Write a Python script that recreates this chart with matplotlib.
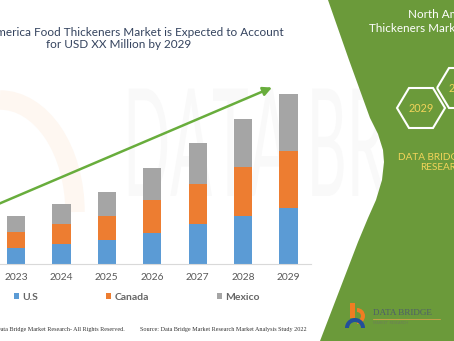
import matplotlib.pyplot as plt
import numpy as np
from matplotlib.patches import Polygon, Rectangle, Wedge, Arc, PathPatch
from matplotlib.textpath import TextPath
from matplotlib.font_manager import FontProperties
from matplotlib.transforms import Affine2D

plt.rcParams['font.family'] = ['Lato', 'DejaVu Sans']

# market size by country (USD Million, stacked)
years = ['2023', '2024', '2025', '2026', '2027', '2028', '2029']
us = [16, 20, 24, 31.5, 40, 48.5, 56.5]
canada = [16, 20, 24.5, 33, 40.5, 48.5, 56.5]
mexico = [16.5, 20, 23.5, 31.5, 40.5, 48, 57]
countries = ['U.S', 'Canada', 'Mexico']
colors = ['#5b9bd5', '#ed7d31', '#a5a5a5']

fig = plt.figure(figsize=(4.54, 3.41), dpi=100)

# background layer in pixel units
bg = fig.add_axes([0, 0, 1, 1], zorder=0)
bg.set_xlim(0, 454)
bg.set_ylim(341, 0)
bg.axis('off')

# faded logo watermark
bg.add_patch(Arc((0, 212), 150, 224, theta1=270, theta2=360,
                 color='#fef7f1', lw=14))
fp = FontProperties(family='Lato')
tp = TextPath((0, 0), 'DATA BRIDGE', size=100, prop=fp)
tp = tp.transformed(Affine2D().scale(0.62, -1.5).translate(123, 196))
bg.add_patch(PathPatch(tp, fc='#f9f9f9', ec='none'))

# green side panel
edge = [(328, 0), (349, 60), (370, 118), (378, 134), (383, 150), (384, 162),
        (382, 180), (376, 200), (368, 218), (358, 242), (320, 341),
        (454, 341), (454, 0)]
bg.add_patch(Polygon(edge, closed=True, fc='#6b9a3a', ec='none'))

# chart titles
tcol = '#34435e'
bg.text(118.5, 32, 'North America Food Thickeners Market is Expected to Account',
        ha='center', va='center', fontsize=8.5, color=tcol)
bg.text(118.5, 45, 'for USD XX Million by 2029',
        ha='center', va='center', fontsize=8.5, color=tcol)

# growth arrow
bg.annotate('', xy=(272, 87.5), xytext=(-10, 207.6),
            arrowprops=dict(arrowstyle='-|>', color='#68ad3c', lw=1.8,
                            mutation_scale=13, shrinkA=0, shrinkB=0))

# stacked bars
ax = fig.add_axes([0, (341 - 264.3) / 341, 311.2 / 454, 184.3 / 341], zorder=1)
ax.patch.set_alpha(0)
x = np.arange(len(years))
bottom = np.zeros(len(years))
for vals, c, name in zip([us, canada, mexico], colors, countries):
    ax.bar(x, vals, width=0.403, bottom=bottom, color=c, label=name)
    bottom += np.array(vals)
ax.set_xlim(-0.352, 6.5)
ax.set_ylim(0, 184.3)
ax.set_yticks([])
ax.set_xticks(x)
ax.set_xticklabels(years, fontsize=7.4, color='#595959')
ax.tick_params(axis='x', length=0, pad=6.5)
for s in ['top', 'left', 'right']:
    ax.spines[s].set_visible(False)
ax.spines['bottom'].set_color('#d9d9d9')
ax.spines['bottom'].set_linewidth(0.8)

leg = ax.legend(loc='center left', bbox_to_anchor=(14, 297),
                bbox_transform=bg.transData, ncol=3, frameon=False,
                handlelength=0.45, handleheight=0.45, handletextpad=0.3,
                columnspacing=6.6, borderpad=0, borderaxespad=0,
                prop=dict(family='Lato', weight='bold', size=7.5))
for t in leg.get_texts():
    t.set_color('#666666')

# footer
bg.text(125, 329.5, '\u00a9 Data Bridge Market Research- All Rights Reserved.',
        ha='right', va='center', fontsize=4.4, family='Liberation Serif',
        color='#333333')
bg.text(140, 329.5, 'Source: Data Bridge Market Research Market Analysis Study 2022',
        ha='left', va='center', fontsize=4.4, family='Liberation Serif',
        color='#333333')

# side panel texts
bg.text(408, 14, 'North America Food', ha='left', va='center',
        fontsize=8.4, color='white')
bg.text(369, 28, 'Thickeners Market', ha='left', va='center',
        fontsize=8.4, color='white')


def hexagon(cx, cy, r=24, h=20):
    return [(cx - r, cy), (cx - r / 2, cy - h), (cx + r / 2, cy - h),
            (cx + r, cy), (cx + r / 2, cy + h), (cx - r / 2, cy + h)]


yel = '#f2d45a'
for cx, cy, label in [(421, 108, '2029'), (461, 88, '2022')]:
    bg.add_patch(Polygon(hexagon(cx, cy), closed=True, fc='none',
                         ec='white', lw=1.5))
    bg.text(cx, cy + 1, label, ha='center', va='center', fontsize=7.8, color=yel)

bg.text(398, 157, 'DATA BRIDGE MARKET', ha='left', va='center',
        fontsize=7.2, color=yel)
bg.text(420, 168, 'RESEARCH', ha='left', va='center', fontsize=7.2, color=yel)

# company logo
bg.add_patch(Rectangle((350, 303), 5, 15, fc='#ef7d22', ec='none'))
bg.add_patch(Wedge((357, 316), 8, 270, 90, width=4, fc='#ef7d22', ec='none'))
bg.add_patch(Wedge((355, 328), 10, 180, 360, width=4, fc='#234f9a', ec='none'))
bg.text(373, 313, 'DATA BRIDGE', ha='left', va='center', fontsize=6.6,
        family='Liberation Serif', color='#4e5d6c')
bg.plot([373, 440], [318.5, 318.5], color='#e8a050', lw=0.5)
bg.text(373, 323, 'MARKET  RESEARCH', ha='left', va='center', fontsize=2.6,
        color='#6b7d5a')

fig.savefig('out.png', dpi=100)
